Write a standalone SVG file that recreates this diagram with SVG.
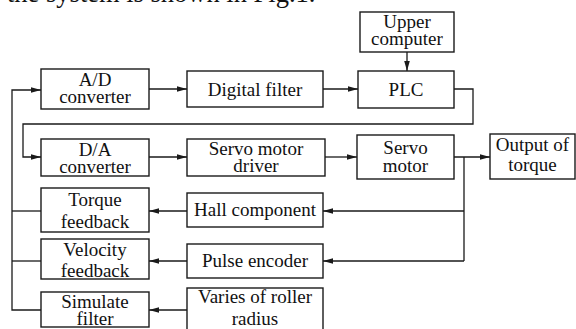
<svg xmlns="http://www.w3.org/2000/svg" width="576" height="329" viewBox="0 0 576 329">
<style>
.box{fill:#fff;stroke:#1a1a1a;stroke-width:1.4}
.t{font-family:"Liberation Serif","Times New Roman",serif;font-size:19px;fill:#111;text-anchor:middle}
.c{fill:none;stroke:#1a1a1a;stroke-width:1.3}
.top{font-family:"Liberation Serif","Times New Roman",serif;font-size:26.5px;fill:#111}
</style>
<defs>
<marker id="ah" markerWidth="11" markerHeight="8" refX="10" refY="4" orient="auto" markerUnits="userSpaceOnUse">
<path d="M0,1.2 L10,4 L0,6.8 Z" fill="#1a1a1a"/>
</marker>
</defs>
<rect width="576" height="329" fill="#fff"/>
<text class="top" x="7" y="1.5">the system is shown in Fig.1.</text>

<g id="connectors">
<path class="c" d="M407,52 V71" marker-end="url(#ah)"/>
<path class="c" d="M149,89 H187" marker-end="url(#ah)"/>
<path class="c" d="M323,89 H358" marker-end="url(#ah)"/>
<path class="c" d="M454,89 H473 V124 H23 V157 H41" marker-end="url(#ah)"/>
<path class="c" d="M149,157 H187" marker-end="url(#ah)"/>
<path class="c" d="M325,157 H357" marker-end="url(#ah)"/>
<path class="c" d="M454,157 H490" marker-end="url(#ah)"/>
<path class="c" d="M464,157 V261"/>
<path class="c" d="M464,211 H323" marker-end="url(#ah)"/>
<path class="c" d="M464,261 H323" marker-end="url(#ah)"/>
<path class="c" d="M187,211 H149" marker-end="url(#ah)"/>
<path class="c" d="M187,261 H149" marker-end="url(#ah)"/>
<path class="c" d="M187,310 H149" marker-end="url(#ah)"/>
<path class="c" d="M41,310 H12 V90 H41" marker-end="url(#ah)"/>
<path class="c" d="M12,211 H41"/>
<path class="c" d="M12,261 H41"/>
</g>

<g id="upper"><rect class="box" x="360" y="12" width="94" height="40"/><text class="t" x="407" y="28">Upper</text><text class="t" x="407" y="45">computer</text></g>
<g id="ad"><rect class="box" x="41" y="69" width="108" height="40"/><text class="t" x="95" y="86">A/D</text><text class="t" x="95" y="103">converter</text></g>
<g id="dfilter"><rect class="box" x="187" y="71" width="136" height="36"/><text class="t" x="255" y="96">Digital filter</text></g>
<g id="plc"><rect class="box" x="358" y="71" width="96" height="37"/><text class="t" x="406" y="96">PLC</text></g>
<g id="da"><rect class="box" x="41" y="139" width="108" height="37"/><text class="t" x="95" y="156">D/A</text><text class="t" x="95" y="173">converter</text></g>
<g id="driver"><rect class="box" x="187" y="139" width="138" height="37"/><text class="t" x="256" y="155">Servo motor</text><text class="t" x="256" y="172">driver</text></g>
<g id="motor"><rect class="box" x="357" y="135" width="97" height="44"/><text class="t" x="405.5" y="154">Servo</text><text class="t" x="405.5" y="172">motor</text></g>
<g id="output"><rect class="box" x="490" y="134" width="85" height="45"/><text class="t" x="532.5" y="151">Output of</text><text class="t" x="532.5" y="171">torque</text></g>
<g id="torque"><rect class="box" x="41" y="188" width="108" height="44"/><text class="t" x="95" y="206">Torque</text><text class="t" x="95" y="228">feedback</text></g>
<g id="hall"><rect class="box" x="187" y="193" width="136" height="34"/><text class="t" x="255" y="216">Hall component</text></g>
<g id="velocity"><rect class="box" x="41" y="239" width="108" height="40"/><text class="t" x="95" y="256">Velocity</text><text class="t" x="95" y="277">feedback</text></g>
<g id="pulse"><rect class="box" x="187" y="244" width="136" height="34"/><text class="t" x="255" y="267">Pulse encoder</text></g>
<g id="simulate"><rect class="box" x="41" y="292" width="108" height="35"/><text class="t" x="95" y="308">Simulate</text><text class="t" x="95" y="325">filter</text></g>
<g id="varies"><rect class="box" x="187" y="288" width="136" height="44"/><text class="t" x="255" y="303">Varies of roller</text><text class="t" x="255" y="325">radius</text></g>
</svg>
